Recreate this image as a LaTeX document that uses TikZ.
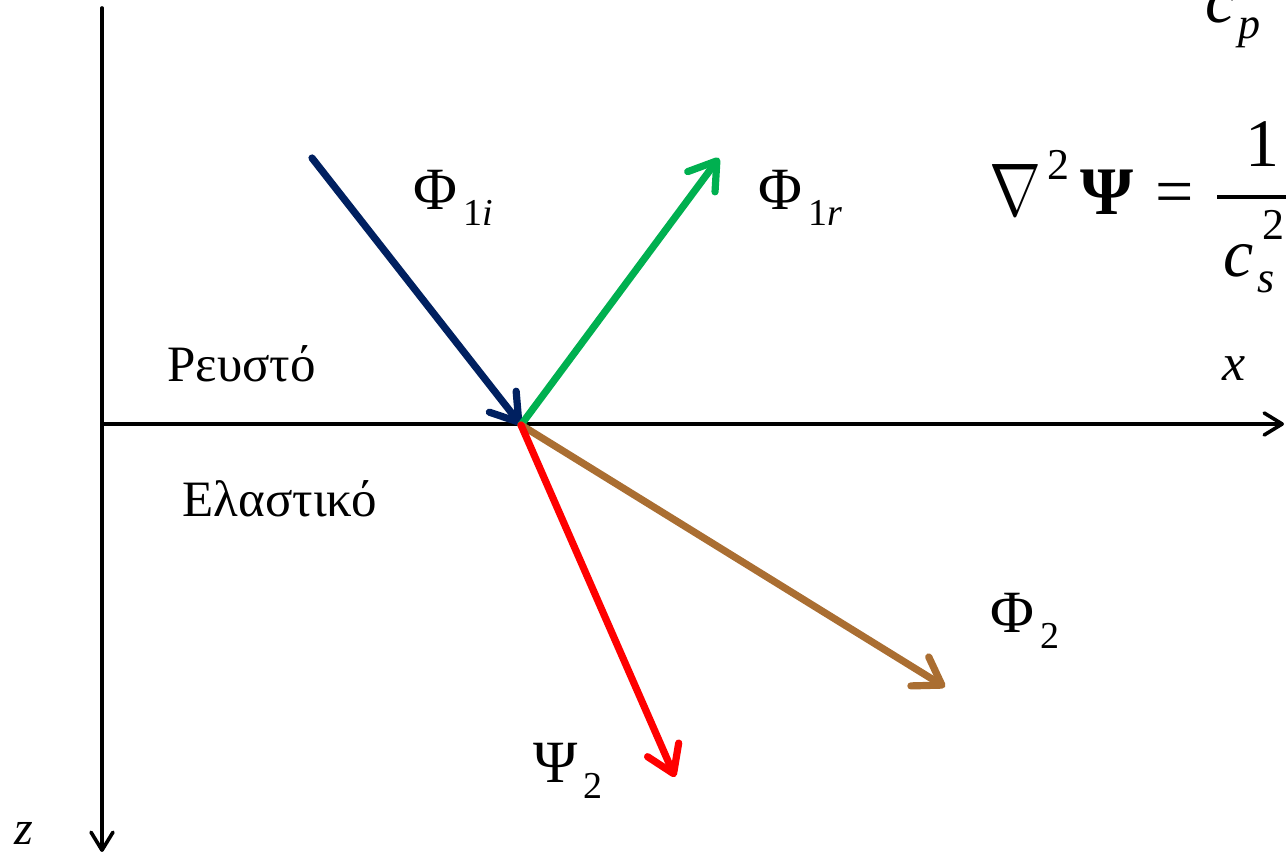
\documentclass[tikz,border=0pt]{standalone}
\usepackage{fontspec}
\setmainfont{Liberation Serif}
\usetikzlibrary{arrows.meta}

\definecolor{incblue}{RGB}{0,32,96}
\definecolor{refgreen}{RGB}{0,176,80}
\definecolor{pbrown}{RGB}{170,110,50}
\definecolor{sred}{RGB}{255,0,0}
\newcommand{\fs}[1]{\fontsize{#1}{#1}\selectfont}
\newcommand{\wavelbl}[2]{#1\hspace{3pt}\raisebox{-8pt}{\fs{19}#2}}

\begin{document}
\begin{tikzpicture}[x=0.5pt,y=-0.5pt,line cap=round,line join=round,
  axis/.style={line width=1.8pt,-{Straight Barb[round,length=9pt,width=11pt]}},
  wave/.style={line width=3.6pt,-{Straight Barb[round,length=13pt,width=17pt]}},
  lbl/.style={inner sep=0pt,anchor=base west}]
  \useasboundingbox (0,0) rectangle (1286,854);
  \clip (0,0) rectangle (1286,854);

  % --- axes x and z ---
  \coordinate (ztop) at (102,8);
  \coordinate (zend) at (102,852);
  \coordinate (xbeg) at (102,424);
  \coordinate (xend) at (1284,424);
  \draw[axis] (ztop) -- (zend);
  \draw[axis] (xbeg) -- (xend);
  \node[lbl] (xlbl) at (1222,381) {\fs{26}\textit{x}};
  \node[lbl] (zlbl) at (14,845) {\fs{24}\textit{z}};

  % --- the two media ---
  \node[lbl] (fluid) at (167,382) {\fs{25.5}Ρευστό};
  \node[lbl] (solid) at (182,517) {\fs{25.5}Ελαστικό};

  % --- incident, reflected and transmitted waves ---
  \coordinate (O)    at (521,425);
  \coordinate (inc)  at (312,158);
  \coordinate (refl) at (719,158);
  \coordinate (pend) at (945,687);
  \coordinate (send) at (675,777);
  \draw[wave,incblue]  (inc) -- (O);
  \draw[wave,refgreen] (O) -- (refl);
  \draw[wave,pbrown]   (O) -- (pend);
  \draw[wave,sred]     (O) -- (send);

  \node[lbl] (phiinc)  at (413,210) {\fs{30}\wavelbl{Φ}{1\textit{i}}};
  \node[lbl] (phirefl) at (758,210) {\fs{30}\wavelbl{Φ}{1\textit{r}}};
  \node[lbl] (phitwo)  at (990,633) {\fs{30}\wavelbl{Φ}{2}};
  \node[lbl] (psitwo)  at (533,783) {\fs{30}\wavelbl{Ψ}{2}};

  % --- wave equations (cut by the right edge) ---
  \node[lbl] (cp)    at (1205,23)  {\fs{34}\textit{c}};
  \node[lbl] (psub)  at (1238,39)  {\fs{22}\textit{p}};
  \node[lbl] (nabla) at (989,216)  {\scalebox{1.25}[1.5]{\fs{24.88}$\nabla$}};
  \node[lbl] (sqa)   at (1047,180) {\fs{22}2};
  \node[lbl] (psib)  at (1080,215) {\fs{34}\textbf{Ψ}};
  \node[lbl] (eqs)   at (1155,215) {\fs{34}=};
  \coordinate (barl) at (1217,197);
  \coordinate (barr) at (1300,197);
  \draw[line width=1.6pt,line cap=butt] (barl) -- (barr);
  \node[lbl] (one)   at (1245,167) {\fs{34}1};
  \node[lbl] (cs)    at (1223,277) {\fs{34}\textit{c}};
  \node[lbl] (ssub)  at (1257,293) {\fs{22}\textit{s}};
  \node[lbl] (sqb)   at (1262,240) {\fs{22}2};
\end{tikzpicture}
\end{document}
